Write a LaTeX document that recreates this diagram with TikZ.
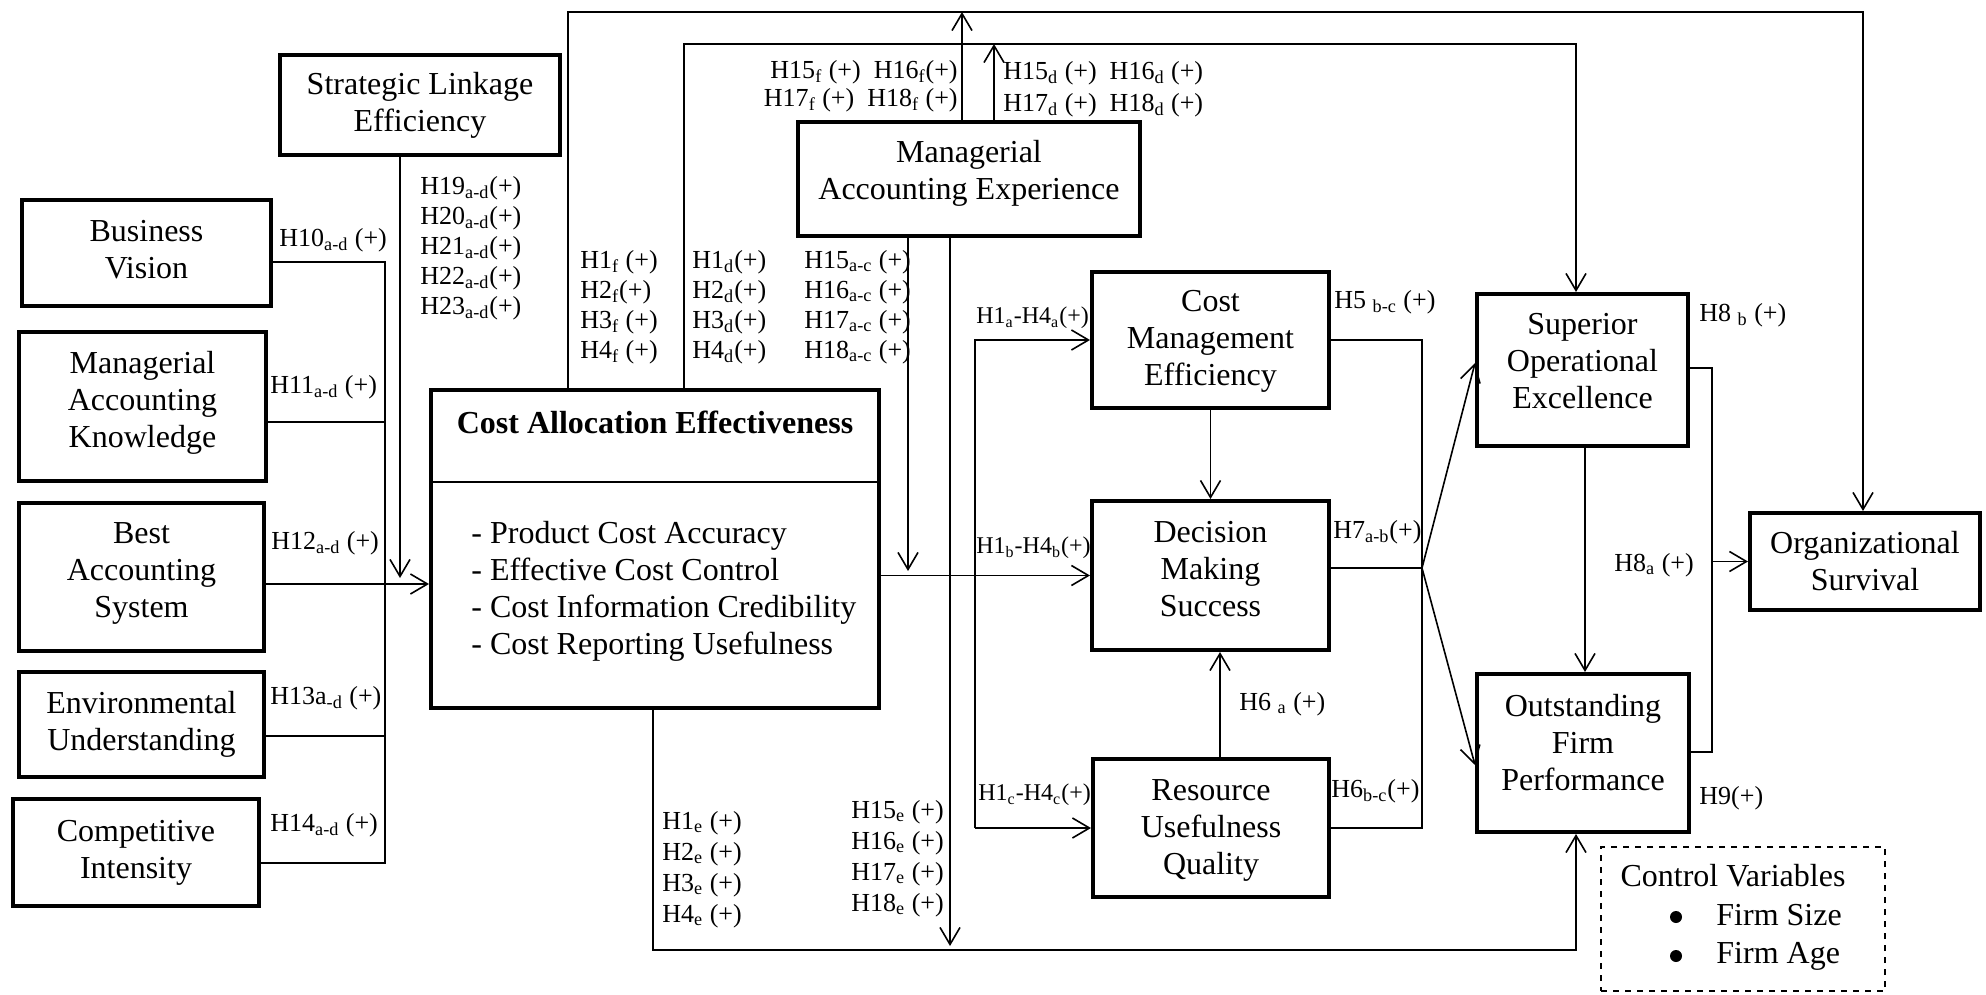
\documentclass[tikz,border=0pt]{standalone}
\usepackage{fontspec}
\setmainfont{Liberation Serif}
\usetikzlibrary{arrows.meta}
\newcommand{\sbs}[1]{\textsubscript{#1}}
\begin{document}
\begin{tikzpicture}[x=0.5pt,y=-0.5pt,
  box/.style={draw, line width=2pt, align=center, inner sep=0pt, font=\fontsize{16}{18.5}\selectfont},
  conn/.style={line width=0.8pt},
  arr/.style={conn, -{Straight Barb[length=8.5pt,width=10pt,line width=0.8pt]}},
  lbl/.style={inner sep=0pt, anchor=west, align=left, font=\fontsize{13}{15}\selectfont},
  slbl/.style={lbl, font=\fontsize{12}{14}\selectfont},
  txt/.style={inner sep=0pt, align=center, font=\fontsize{16}{18.5}\selectfont},
  dot/.style={circle, fill, inner sep=0pt, minimum size=6pt}
]
\useasboundingbox (0,0) rectangle (1986,995);

% ---------- boxes ----------
\node[box, minimum width=140pt, minimum height=50pt] (sle) at (420,105) {Strategic Linkage\\Efficiency};
\node[box, minimum width=124.5pt, minimum height=53pt] (bv) at (146.5,253) {};
\node[txt] (bvt) at (146.5,250) {Business\\Vision};
\node[box, minimum width=123.5pt, minimum height=74.5pt] (mak) at (142.5,406.5) {};
\node[txt] (makt) at (142.5,402.5) {Managerial\\Accounting\\Knowledge};
\node[box, minimum width=122.5pt, minimum height=74pt] (bas) at (141.5,577) {};
\node[txt] (bast) at (141.5,573) {Best\\Accounting\\System};
\node[box, minimum width=122.5pt, minimum height=52.5pt] (env) at (141.5,724.5) {Environmental\\Understanding};
\node[box, minimum width=123pt, minimum height=53.5pt] (comp) at (136,852.5) {Competitive\\Intensity};

\node[box, minimum width=224pt, minimum height=159pt] (cae) at (655,549) {};
\node[txt, font=\bfseries\fontsize{16}{18.5}\selectfont] (caet) at (655,422) {Cost Allocation Effectiveness};
\node[txt, anchor=west, align=left] (cael) at (471,591.5) {- Product Cost Accuracy\\- Effective Cost Control\\- Cost Information Credibility\\- Cost Reporting Usefulness};
\draw[conn] (cae.west |- 0,482) -- (cae.east |- 0,482);

\node[box, minimum width=171pt, minimum height=57pt] (mae) at (969,179) {};
\node[txt] (maet) at (969,173) {Managerial\\Accounting Experience};
\node[box, minimum width=118.5pt, minimum height=68pt] (cme) at (1210.5,340) {};
\node[txt] (cmet) at (1210.5,341) {Cost\\Management\\Efficiency};
\node[box, minimum width=118.5pt, minimum height=74.5pt] (dms) at (1210.5,575.5) {};
\node[txt] (dmst) at (1210.5,569.5) {Decision\\Making\\Success};
\node[box, minimum width=118pt, minimum height=69pt] (ruq) at (1211,828) {};
\node[txt] (ruqt) at (1211,830) {Resource\\Usefulness\\Quality};
\node[box, minimum width=105.5pt, minimum height=76pt] (soe) at (1582.5,370) {};
\node[txt] (soet) at (1582.5,361) {Superior\\Operational\\Excellence};
\node[box, minimum width=106pt, minimum height=79pt] (ofp) at (1583,753) {};
\node[txt] (ofpt) at (1583,743) {Outstanding\\Firm\\Performance};
\node[box, minimum width=115pt, minimum height=48.5pt] (os) at (1865,561.5) {Organizational\\Survival};

\node[draw, dashed, line width=0.8pt, minimum width=142pt, minimum height=72pt, inner sep=0pt] (cv) at (1743,919) {};
\node[txt] (cvt) at (1733,876) {Control Variables};
\node[dot] (cvb1) at (1676,917) {};
\node[dot] (cvb2) at (1676,956) {};
\node[txt, anchor=base west] (cv1) at (1716,925) {Firm Size};
\node[txt, anchor=base west] (cv2) at (1716,963) {Firm Age};

% ---------- left bus ----------
\coordinate (busT) at (385,262);
\coordinate (busB) at (385,863);
\draw[conn] (bv.east |- busT) -- (busT) -- (busB) -- (comp.east |- busB);
\draw[conn] (mak.east |- 0,422) -- (busT |- 0,422);
\draw[conn] (env.east |- 0,736) -- (busT |- 0,736);
\draw[arr] (bas.east |- 0,584) -- (cae.west |- 0,584);
\draw[arr] (sle.south -| 400,0) -- (400,578);

% ---------- top loops ----------
\draw[arr] (cae.north -| 568,0) -- (568,12) -- (1863,12) -- (os.north -| 1863,0);
\draw[arr] (cae.north -| 684,0) -- (684,44) -- (1576,44) -- (soe.north -| 1576,0);
\draw[arr] (mae.north -| 962,0) -- (962,12);
\draw[arr] (mae.north -| 994,0) -- (994,44);
\draw[arr] (mae.south -| 908,0) -- (908,571);
\draw[arr] (mae.south -| 950,0) -- (950,946);

% ---------- middle ----------
\coordinate (v1) at (975,340);
\draw[arr] (cae.east |- dms.west) -- (dms.west);
\draw[arr] (ruq.west -| v1) -- (cme.west -| v1) -- (cme.west);
\draw[arr] (ruq.west -| v1) -- (ruq.west);
\draw[arr] (cme.south) -- (dms.north);
\draw[arr] (ruq.north -| 1220,0) -- (dms.south -| 1220,0);

% ---------- right ----------
\coordinate (j) at (1422,568);
\draw[conn] (cme.east) -- (cme.east -| j) -- (ruq.east -| j) -- (ruq.east);
\draw[conn] (dms.east |- j) -- (j);
\draw[arr] (j) -- (soe.west |- 0,363);
\draw[arr] (j) -- (ofp.west |- 0,765);
\draw[arr] (soe.south -| 1585,0) -- (ofp.north -| 1585,0);
\coordinate (k) at (1712,558);
\draw[conn] (soe.east |- 0,368) -- (k |- 0,368) -- (k |- 0,752) -- (ofp.east |- 0,752);
\draw[arr] (os.west -| k) -- (os.west);
\draw[arr] (cae.south -| 653,0) -- (653,950) -- (1576,950) -- (ofp.south -| 1576,0);

% ---------- labels ----------
\node[lbl] (l10) at (279,240) {H10\sbs{a-d} (+)};
\node[lbl] (l11) at (270,387) {H11\sbs{a-d} (+)};
\node[lbl] (l12) at (271,543) {H12\sbs{a-d} (+)};
\node[lbl] (l13) at (270,698) {H13a\sbs{-d} (+)};
\node[lbl] (l14) at (270,825) {H14\sbs{a-d} (+)};
\node[lbl] (l19) at (420,248) {H19\sbs{a-d}(+)\\H20\sbs{a-d}(+)\\H21\sbs{a-d}(+)\\H22\sbs{a-d}(+)\\H23\sbs{a-d}(+)};
\node[lbl] (l1f) at (580,307) {H1\sbs{f} (+)\\H2\sbs{f}(+)\\H3\sbs{f} (+)\\H4\sbs{f} (+)};
\node[lbl] (l1d) at (692,307) {H1\sbs{d}(+)\\H2\sbs{d}(+)\\H3\sbs{d}(+)\\H4\sbs{d}(+)};
\node[lbl] (l15ac) at (804,307) {H15\sbs{a-c} (+)\\H16\sbs{a-c} (+)\\H17\sbs{a-c} (+)\\H18\sbs{a-c} (+)};
\node[lbl, anchor=east, align=right, font=\fontsize{13}{14}\selectfont] (l15f) at (958,86) {H15\sbs{f} (+)\enspace H16\sbs{f}(+)\\H17\sbs{f} (+)\enspace H18\sbs{f} (+)};
\node[lbl, font=\fontsize{13}{16}\selectfont] (l15d) at (1003,89) {H15\sbs{d} (+)\enspace H16\sbs{d} (+)\\H17\sbs{d} (+)\enspace H18\sbs{d} (+)};
\node[slbl] (l1a) at (976,318) {H1\sbs{a}-H4\sbs{a}(+)};
\node[slbl] (l1b) at (976,548) {H1\sbs{b}-H4\sbs{b}(+)};
\node[slbl] (l1c) at (978,795) {H1\sbs{c}-H4\sbs{c}(+)};
\node[lbl] (l5) at (1334,302) {H5 \sbs{b-c} (+)};
\node[lbl] (l6a) at (1239,704) {H6 \sbs{a} (+)};
\node[lbl] (l7) at (1333,532) {H7\sbs{a-b}(+)};
\node[lbl] (l6bc) at (1331,791) {H6\sbs{b-c}(+)};
\node[lbl] (l8b) at (1699,315) {H8 \sbs{b} (+)};
\node[lbl] (l8a) at (1614,565) {H8\sbs{a} (+)};
\node[lbl] (l9) at (1699,798) {H9(+)};
\node[lbl, font=\fontsize{13}{15.5}\selectfont] (l1e) at (662,869.5) {H1\sbs{e} (+)\\H2\sbs{e} (+)\\H3\sbs{e} (+)\\H4\sbs{e} (+)};
\node[lbl, font=\fontsize{13}{15.5}\selectfont] (l15e) at (851,858.5) {H15\sbs{e} (+)\\H16\sbs{e} (+)\\H17\sbs{e} (+)\\H18\sbs{e} (+)};
\end{tikzpicture}
\end{document}
